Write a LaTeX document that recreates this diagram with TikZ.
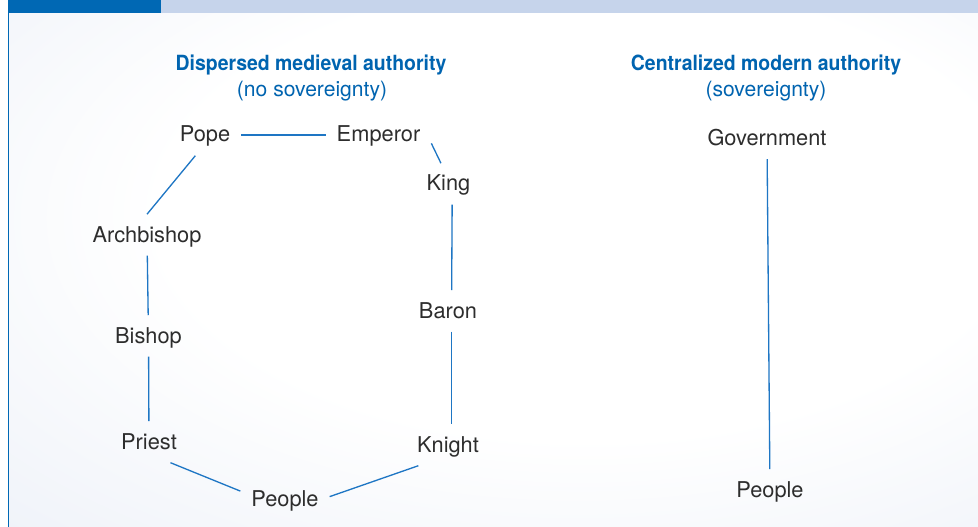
\documentclass[tikz,border=0pt]{standalone}
\usepackage{fontspec}
\setmainfont{TeX Gyre Heros}
\newfontfamily\headfont{TeX Gyre Heros}[FakeStretch=0.93]
\definecolor{bar_blue}{RGB}{0,104,180}
\definecolor{bar_light}{RGB}{198,212,235}
\definecolor{title_blue}{RGB}{0,100,176}
\definecolor{edge_blue}{RGB}{30,118,196}
\definecolor{text_gray}{RGB}{45,45,45}
\definecolor{bg_mid}{RGB}{232,237,246}
\definecolor{bg_dark}{RGB}{192,206,230}
\pgfdeclareradialshading{bgshade}{\pgfpoint{7bp}{8bp}}{color(0bp)=(white); color(22bp)=(white); color(50bp)=(bg_mid); color(75bp)=(bg_dark)}

\begin{document}
\begin{tikzpicture}[x=0.02cm,y=-0.02cm,semithick]
    \tikzstyle{actor}=[text=text_gray,font=\fontsize{12.4}{14}\selectfont,anchor=base,text height=9pt,text depth=1pt,inner xsep=6pt,inner ysep=6.5pt]
    \tikzstyle{heading}=[text=title_blue,font=\headfont\fontsize{11.9}{14}\selectfont\bfseries,anchor=base]
    \tikzstyle{subheading}=[text=title_blue,font=\fontsize{12}{14}\selectfont,anchor=base]
    \tikzstyle{link}=[edge_blue,line width=0.75pt]

    \useasboundingbox (0,0) rectangle (978,527);
    % background and top bar
    \shade[shading=bgshade] (8,13) rectangle (978,527);
    \fill[bar_light] (161,0) rectangle (978,13);
    \fill[bar_blue] (8,0) rectangle (161,13);
    \draw[bar_blue,line width=0.6pt] (8.5,13) -- (8.5,527);

    \node[heading]    (T1) at (311,71) {Dispersed medieval authority};
    \node[subheading] (S1) at (312,96.5) {(no sovereignty)};
    \node[heading]    (T2) at (766,71) {Centralized modern authority};
    \node[subheading] (S2) at (766,96.5) {(sovereignty)};

    \node[actor] (Pope)    at (205,142) {Pope};
    \node[actor] (Emperor) at (378.5,142) {Emperor};
    \node[actor] (King)    at (448.5,191) {King};
    \node[actor] (Arch)    at (147,242) {Archbishop};
    \node[actor] (Bishop)  at (148.5,343) {Bishop};
    \node[actor] (Baron)   at (448,318) {Baron};
    \node[actor] (Priest)  at (149,449) {Priest};
    \node[actor] (Knight)  at (448,452) {Knight};
    \node[actor] (PeopleA) at (285,506) {People};
    \node[actor] (Gov)     at (767,145.5) {Government};
    \node[actor] (PeopleB) at (770,497) {People};

    \path[link]
     (Pope) edge (Emperor)
     (Emperor.-9) edge (King.110)
     (Pope.245) edge (Arch.north)
     (King.-80) edge (Baron.80)
     (Baron.-80) edge (Knight.80)
     (Arch) edge (Bishop)
     (Bishop) edge (Priest)
     (Priest.-44) edge (PeopleA.170)
     (Knight.215) edge (PeopleA.3)
     (Gov) edge (PeopleB);
  \end{tikzpicture}
\end{document}
